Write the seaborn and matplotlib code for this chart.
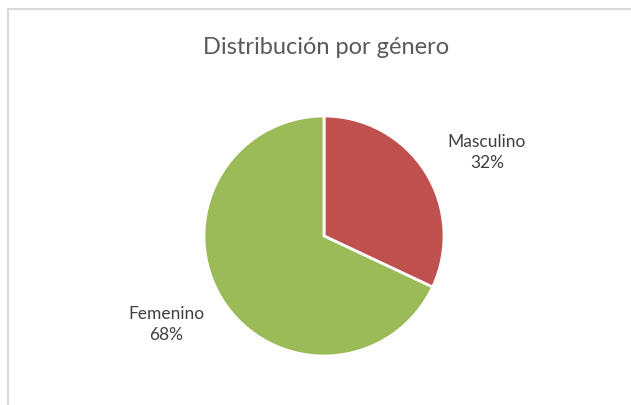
import matplotlib
matplotlib.use("Agg")
import matplotlib.pyplot as plt
from matplotlib.patches import Rectangle
import seaborn as sns

# Data
categories = ["Masculino", "Femenino"]
shares = [32, 68]
colors = ["#C0504D", "#9BBB59"]
title = "Distribución por género"

sns.set_theme(style="white")
plt.rcParams['font.family'] = ['Lato', 'DejaVu Sans']

W, H = 631, 405
fig = plt.figure(figsize=(W / 100, H / 100), dpi=100)
ax = fig.add_axes([0, 0, 1, 1])

# chart frame (light grey border, cut off at right/bottom)
fig.patches.append(Rectangle((8 / W, -0.1), 1.2, (H - 9) / H + 0.1,
                             transform=fig.transFigure, fill=False,
                             edgecolor="#D9D9D9", linewidth=1.5))

labels = [f"{c}\n{v}%" for c, v in zip(categories, shares)]
wedges, texts = ax.pie(shares, labels=labels, colors=colors,
                       startangle=90, counterclock=False,
                       center=(324, H - 236), radius=120,
                       labeldistance=1.5,
                       wedgeprops=dict(edgecolor="white", linewidth=2),
                       textprops=dict(fontsize=12.5, color="#404040"),
                       frame=True)
# Excel places the data labels a bit closer to the horizontal
label_shift = [(11, -13), (-6, 8)]
for t, (dx, dy) in zip(texts, label_shift):
    x, y = t.get_position()
    t.set_position((x + dx, y + dy))
    t.set_ha("center")
    t.set_va("center")
    t.set_linespacing(1.4)
ax.set_xlim(0, W)
ax.set_ylim(0, H)
ax.set_axis_off()

ax.text(326, H - 47, title, ha="center", va="center",
        fontsize=17, color="#595959")

fig.savefig("out.png", dpi=100)
